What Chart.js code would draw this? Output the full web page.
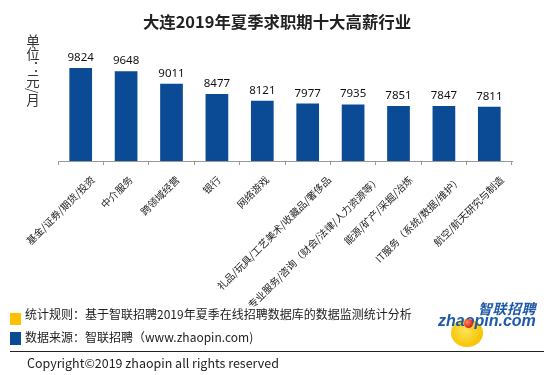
<!DOCTYPE html>
<html>
<head>
<meta charset="utf-8">
<script src="https://cdn.jsdelivr.net/npm/chart.js@4/dist/chart.umd.min.js"></script>
<style>
    body { margin: 0; background: #fff; }
    #wrap { position: relative; width: 554px; height: 375px; overflow: hidden; font-family: "Noto Sans CJK SC", sans-serif; color: #222; }
    #chart { position: absolute; left: 0; top: 0; }
    .abs { position: absolute; white-space: nowrap; }
    #title { left: 0; width: 554px; top: 11px; text-align: center; font-size: 16.4px; font-weight: bold; line-height: 20px; color: #222; }
    #unit { left: 25px; top: 34px; writing-mode: vertical-rl; font-size: 13.5px; line-height: 15px; color: #333; }
    .sq { position: absolute; width: 11px; height: 12px; }
    .note { left: 25px; font-size: 12px; line-height: 16px; color: #222; }
    #rule { left: 10px; top: 351px; width: 534px; height: 1px; background: #222; }
    #copy { left: 27px; top: 355px; font-size: 12.5px; line-height: 16px; color: #222; }
    #logo-dot { left: 451px; top: 319px; width: 32px; height: 28px; border-radius: 50%; background: radial-gradient(circle at 45% 40%, #ffe45a, #f6c400 70%, #f2b800); }
    #logo-ball { left: 464px; top: 319px; width: 9px; height: 9px; border-radius: 50%; background: radial-gradient(circle at 35% 35%, #ff8a6a, #d8201a 70%); }
    #logo-en { left: 438px; top: 311px; font-family: "Liberation Sans", sans-serif; font-weight: bold; font-style: italic; font-size: 16px; line-height: 20px; color: #1e5aa8; }
    #logo-cn { left: 478px; top: 301px; font-weight: bold; font-style: italic; font-size: 14px; line-height: 15px; color: #1e5aa8; letter-spacing: 0.5px; }
</style>
</head>
<body>
<div id="wrap">
    <canvas id="chart" width="554" height="375"></canvas>
    <div class="abs" id="title">大连2019年夏季求职期十大高薪行业</div>
    <div class="abs" id="unit">单位：元/月</div>
    <div class="sq" style="left:10px;top:313px;background:#ffc000;"></div>
    <div class="abs note" style="top:306px;">统计规则：基于智联招聘2019年夏季在线招聘数据库的数据监测统计分析</div>
    <div class="sq" style="left:10px;top:332px;height:13px;background:#0b4a94;"></div>
    <div class="abs note" style="top:329px;">数据来源：智联招聘（www.zhaopin.com)</div>
    <div class="abs" id="rule"></div>
    <div class="abs" id="copy">Copyright©2019 zhaopin all rights reserved</div>
    <div class="abs" id="logo-dot"></div>
    <div class="abs" id="logo-en">zhaopin.com</div>
    <div class="abs" id="logo-ball"></div>
    <div class="abs" id="logo-cn">智联招聘</div>
</div>
<script>
// industries and average monthly salary (元/月)
const industries = [
    '基金/证券/期货/投资',
    '中介服务',
    '跨领域经营',
    '银行',
    '网络游戏',
    '礼品/玩具/工艺美术/收藏品/奢侈品',
    '专业服务/咨询（财会/法律/人力资源等）',
    '能源/矿产/采掘/冶炼',
    'IT服务（系统/数据/维护）',
    '航空/航天研究与制造'
];
const salaries = [9824, 9648, 9011, 8477, 8121, 7977, 7935, 7851, 7847, 7811];
const yMin = 5000;
const yMax = 12000;

// numbers above the bars
const valueLabels = {
    id: 'valueLabels',
    afterDatasetsDraw(chart) {
        const ctx = chart.ctx;
        const meta = chart.getDatasetMeta(0);
        ctx.save();
        ctx.font = '11.5px "Noto Sans", sans-serif';
        ctx.fillStyle = '#111';
        ctx.textAlign = 'center';
        ctx.textBaseline = 'alphabetic';
        meta.data.forEach((bar, i) => {
            ctx.fillText(salaries[i], bar.x, bar.y - 7);
        });
        ctx.restore();
    }
};

// slanted category names; like Excel, longer names sit a bit further right
const slantedLabels = {
    id: 'slantedLabels',
    afterDraw(chart) {
        const ctx = chart.ctx;
        const xs = chart.scales.x;
        ctx.save();
        ctx.font = '10px "Noto Sans CJK SC", sans-serif';
        ctx.fillStyle = '#222';
        ctx.textAlign = 'right';
        ctx.textBaseline = 'middle';
        industries.forEach((name, i) => {
            const w = ctx.measureText(name).width;
            ctx.save();
            ctx.translate(xs.getPixelForTick(i) + 0.144 * w - 1, xs.top + 17);
            ctx.rotate(-Math.PI / 4);
            ctx.fillText(name, 0, 0);
            ctx.restore();
        });
        ctx.restore();
    }
};

const ctx = document.getElementById('chart').getContext('2d');
const myChart = new Chart(ctx, {
    type: 'bar',
    data: {
        labels: industries,
        datasets: [{
            data: salaries,
            backgroundColor: '#0b4a94',
            categoryPercentage: 1,
            barPercentage: 0.5
        }]
    },
    options: {
        responsive: false,
        animation: false,
        devicePixelRatio: 1,
        layout: { padding: { left: 58, right: 42, top: 26, bottom: 0 } },
        plugins: {
            legend: { display: false },
            tooltip: { enabled: false }
        },
        scales: {
            x: {
                grid: { drawOnChartArea: false, drawTicks: true, tickLength: 4, color: '#999', offset: true },
                border: { color: '#999' },
                ticks: { display: false },
                afterFit(scale) {
                    scale.height = 214;
                    scale.paddingLeft = 0;
                    scale.paddingRight = 0;
                }
            },
            y: { display: false, min: yMin, max: yMax }
        }
    },
    plugins: [valueLabels, slantedLabels]
});
</script>
</body>
</html>
